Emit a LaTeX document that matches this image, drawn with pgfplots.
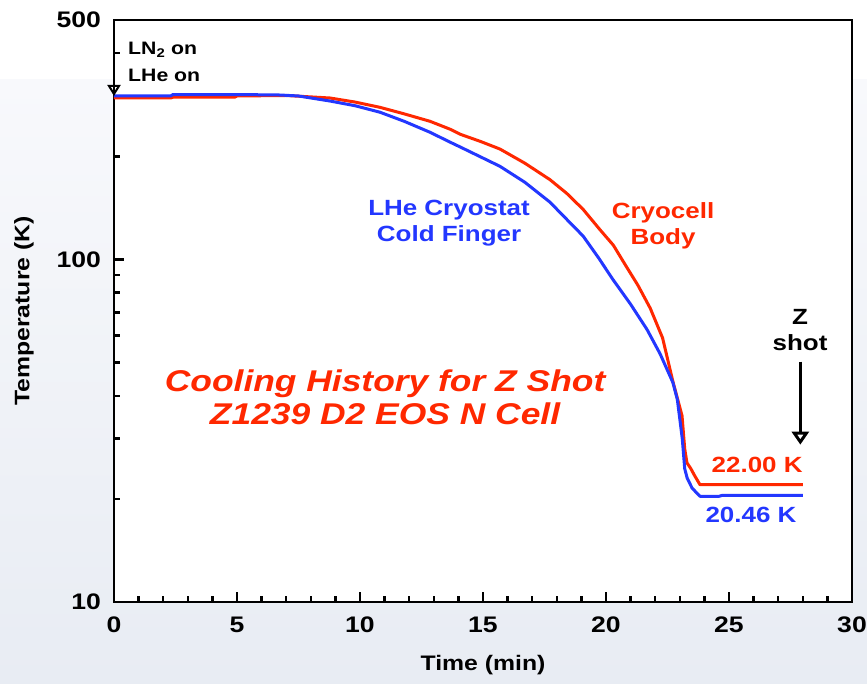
\documentclass[border=0pt]{standalone}
\usepackage{fontspec}
\setmainfont{Liberation Sans}[FakeStretch=1.18]
\usepackage{pgfplots}
\pgfplotsset{compat=1.18}
\usetikzlibrary{arrows.meta}
\definecolor{zred}{RGB}{255,40,0}
\definecolor{zblue}{RGB}{35,55,255}
\definecolor{bgtop}{RGB}{248,249,252}
\definecolor{bgbot}{RGB}{232,236,243}

\begin{document}
\begin{tikzpicture}
% slide background
\fill[white] (-114pt,-81pt) rectangle (753pt,602pt);
\shade[top color=bgtop, bottom color=bgbot] (-114pt,-81pt) rectangle (753pt,522pt);

\begin{axis}[
  at={(0,0)}, anchor=south west,
  scale only axis, width=738pt, height=582pt,
  xmin=0, xmax=30, ymode=log, ymin=10, ymax=500,
  xtick={0,5,...,30}, minor x tick num=4,
  ytick={10,100,500}, yticklabels={10,100,500},
  minor ytick={20,30,40,50,60,70,80,90,200,300,400},
  tick align=inside, tick pos=left,
  major tick length=10pt, minor tick length=6pt,
  every tick/.style={black, line width=2.5pt},
  axis line style={line width=2.5pt},
  axis background/.style={fill=white},
  clip=false,
  /pgf/number format/assume math mode=true,
  tick label style={font=\fontsize{22.5}{26}\selectfont\bfseries},
  xticklabel style={inner sep=0pt, anchor=north, yshift=-15pt},
  yticklabel style={inner sep=0pt, anchor=east, xshift=-13pt},
  xlabel={Time (min)}, ylabel={Temperature (K)},
  label style={font=\fontsize{21}{25}\selectfont\bfseries},
  xlabel style={at={(axis description cs:0.5,-0.108)}, anchor=center},
  ylabel style={at={(axis description cs:-0.122,0.5)}, anchor=center},
]
% Cryocell body
\addplot[zred, line width=3pt, line join=round] coordinates {
  (0,296)(2.3,296)(2.4,297.5)(4.9,297.5)(5.0,300)(7,301)(8.78,296)(9.8,288)
  (10.81,278)(11.8,266)(12.85,253)(13.66,240)(14.07,232)(14.9,221)(15.69,210)
  (16.7,191)(17.72,171)(18.4,156)(19.07,140)(19.76,122)(20.3,110)(20.8,96)
  (21.3,84)(21.8,72)(22.3,59)(22.72,44)(23.09,35)(23.2,28)(23.29,25.5)
  (23.45,24.5)(23.6,23.4)(23.82,22.0)(28,22.0)};
% LHe cryostat cold finger
\addplot[zblue, line width=3pt, line join=round] coordinates {
  (0,300)(2.3,300)(2.4,303)(5,303)(6.75,302)(7.5,300)(8.78,290)(9.8,281)
  (10.81,269)(11.8,253)(12.85,235)(13.66,220)(14.07,213)(15.69,187)(16.7,168)
  (17.72,147)(18.4,131)(19.07,117)(19.7,101)(20.28,87.4)(21.0,74)(21.67,62.4)
  (22.2,53)(22.72,43.7)(22.9,39)(23.1,30)(23.2,24.5)(23.3,23)(23.5,21.5)
  (23.82,20.35)(24.6,20.35)(24.7,20.46)(28,20.46)};

% annotations
\draw[-{Triangle[open, width=13pt, length=11pt]}, line width=2pt]
  (axis cs:0,368) -- (axis cs:0,300);
\node[font=\fontsize{18}{21}\selectfont\bfseries, anchor=base west, inner sep=0pt]
  at (axis cs:0.57,397) {LN\textsubscript{2} on};
\node[font=\fontsize{18}{21}\selectfont\bfseries, anchor=base west, inner sep=0pt]
  at (axis cs:0.57,331) {LHe on};

\node[zblue, align=center, font=\fontsize{22}{26}\selectfont\bfseries]
  at (axis cs:13.62,128) {LHe Cryostat\\Cold Finger};
\node[zred, align=center, font=\fontsize{22}{26}\selectfont\bfseries]
  at (axis cs:22.32,125) {Cryocell\\Body};
\node[zred, align=center, font=\fontsize{30}{33}\selectfont\bfseries\itshape]
  at (axis cs:11.02,39.5) {Cooling History for Z Shot\\Z1239 D2 EOS N Cell};

\node[align=center, font=\fontsize{22}{26}\selectfont\bfseries]
  at (axis cs:27.89,62.4) {Z\\shot};
\draw[-{Triangle[open, width=17pt, length=13pt]}, line width=3pt]
  (axis cs:27.9,50.3) -- (axis cs:27.9,28.8);
\node[zred, anchor=east, inner sep=0pt, font=\fontsize{22}{26}\selectfont\bfseries]
  at (axis cs:28.0,25.2) {22.00 K};
\node[zblue, anchor=east, inner sep=0pt, font=\fontsize{22}{26}\selectfont\bfseries]
  at (axis cs:27.75,17.9) {20.46 K};
\end{axis}
\pgfresetboundingbox
\path (-114pt,-81pt) rectangle (753pt,602pt);
\end{tikzpicture}
\end{document}
